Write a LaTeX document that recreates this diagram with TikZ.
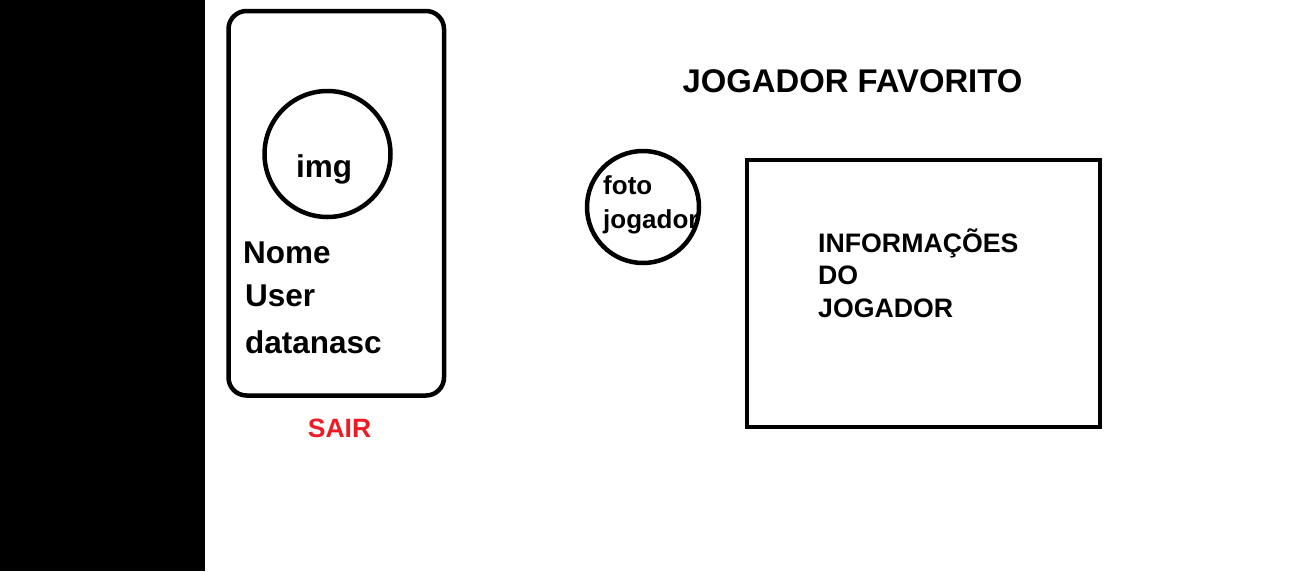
\documentclass[tikz,border=0pt]{standalone}
\usepackage{fontspec}
\setmainfont{Liberation Sans}
\definecolor{sairred}{RGB}{237,28,36}
\begin{document}
\begin{tikzpicture}[x=1pt,y=-1pt,
  frame/.style={draw=black, line width=4.5pt, inner sep=0pt, outer sep=0pt},
  ring/.style={frame, circle},
  lbl/.style={anchor=base west, inner sep=0pt, font=\bfseries\fontsize{31.5}{31.5}\selectfont},
  info/.style={anchor=base west, inner sep=0pt, font=\bfseries\fontsize{26.7}{26.7}\selectfont},
  foto/.style={anchor=base west, inner sep=0pt, font=\bfseries\fontsize{26}{26}\selectfont}]
\useasboundingbox (0,0) rectangle (1301,571);
\node[fill=black, inner sep=0pt, outer sep=0pt, minimum width=205pt, minimum height=571pt, anchor=north west] (bar) at (0,0) {};
% profile card
\node[frame, rounded corners=18pt, minimum width=215.5pt, minimum height=384.5pt] (card) at (336.25,203.25) {};
\node[ring, minimum size=126pt] (imgc) at (327.5,154) {};
\node[lbl] (img) at (296,177) {img};
\node[lbl] (nome) at (243,263) {Nome};
\node[lbl] (user) at (245,306) {User};
\node[lbl] (data) at (245,353) {datanasc};
\node[anchor=base, inner sep=0pt, text=sairred, font=\bfseries\fontsize{26.5}{26.5}\selectfont] (sair) at (339.5,437) {SAIR};
% title
\node[anchor=base, inner sep=0pt, font=\bfseries\fontsize{32.8}{32.8}\selectfont] (title) at (852.5,92) {JOGADOR FAVORITO};
% player photo
\node[ring, minimum size=112pt] (fotoc) at (643,207) {};
\node[foto] (foto1) at (603,194) {foto};
\node[foto] (foto2) at (603,228) {jogador};
% info box
\node[frame, minimum width=353pt, minimum height=267pt] (infobox) at (923.5,293.5) {};
\node[info] (i1) at (818,252) {INFORMAÇÕES};
\node[info] (i2) at (818,284) {DO};
\node[info] (i3) at (818,317) {JOGADOR};
\end{tikzpicture}
\end{document}
